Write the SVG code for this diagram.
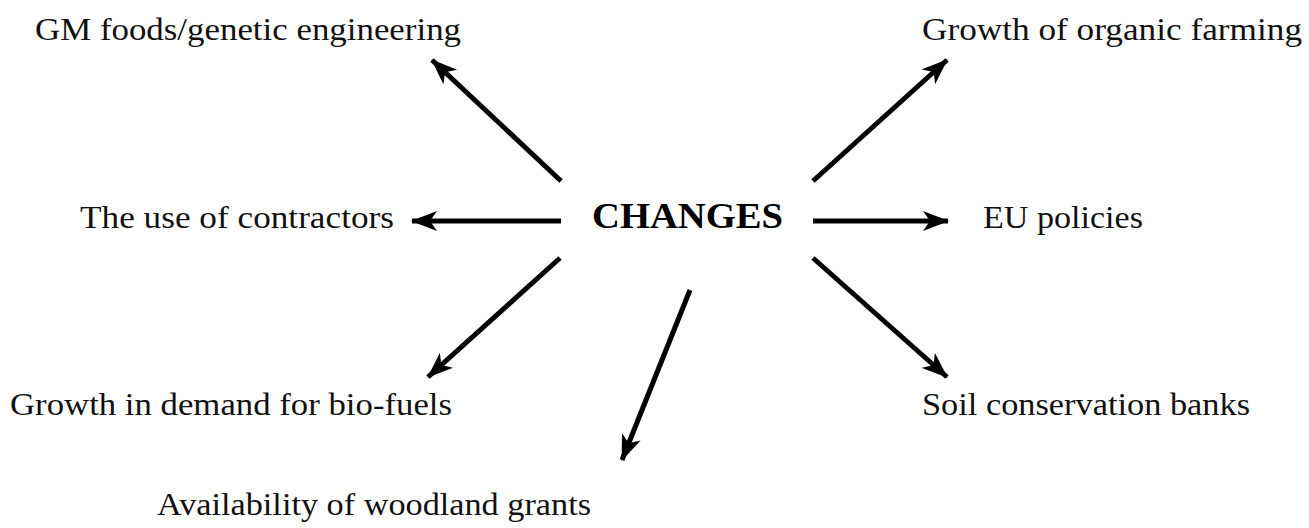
<svg xmlns="http://www.w3.org/2000/svg" width="1309" height="528" viewBox="0 0 1309 528">
<style>
.lbl{font-family:"Liberation Serif","Times New Roman",serif;font-size:30.5px;fill:#111}
.ctr{font-family:"Liberation Serif","Times New Roman",serif;font-size:35px;font-weight:bold;fill:#000}
.con line{stroke:#000;stroke-width:5;marker-end:url(#ah)}
</style>
<defs>
<marker id="ah" markerUnits="userSpaceOnUse" viewBox="0 0 26 20" refX="25" refY="10" markerWidth="26" markerHeight="20" orient="auto">
<path d="M0,0 L26,10 L0,20 L7,10 Z" fill="#000"/>
</marker>
</defs>
<rect width="1309" height="528" fill="#fff"/>
<g id="connectors" class="con">
<line x1="561" y1="181" x2="432" y2="60"/>
<line x1="813" y1="181" x2="947" y2="60"/>
<line x1="561" y1="221" x2="412" y2="221"/>
<line x1="813" y1="221" x2="948" y2="221"/>
<line x1="560" y1="258" x2="428" y2="377"/>
<line x1="813" y1="258" x2="947" y2="377"/>
<line x1="690" y1="290" x2="622" y2="460"/>
</g>
<g id="center"><text class="ctr" x="592" y="228" textLength="191" lengthAdjust="spacingAndGlyphs">CHANGES</text></g>
<g id="gm"><text class="lbl" x="35" y="40" textLength="426" lengthAdjust="spacingAndGlyphs">GM foods/genetic engineering</text></g>
<g id="organic"><text class="lbl" x="922" y="40" textLength="380" lengthAdjust="spacingAndGlyphs">Growth of organic farming</text></g>
<g id="contractors"><text class="lbl" x="80" y="228" textLength="314" lengthAdjust="spacingAndGlyphs">The use of contractors</text></g>
<g id="eu"><text class="lbl" x="983" y="228" textLength="160" lengthAdjust="spacingAndGlyphs">EU policies</text></g>
<g id="biofuels"><text class="lbl" x="10" y="415" textLength="442" lengthAdjust="spacingAndGlyphs">Growth in demand for bio-fuels</text></g>
<g id="soil"><text class="lbl" x="922" y="415" textLength="328" lengthAdjust="spacingAndGlyphs">Soil conservation banks</text></g>
<g id="woodland"><text class="lbl" x="157" y="515" textLength="434" lengthAdjust="spacingAndGlyphs">Availability of woodland grants</text></g>
</svg>
